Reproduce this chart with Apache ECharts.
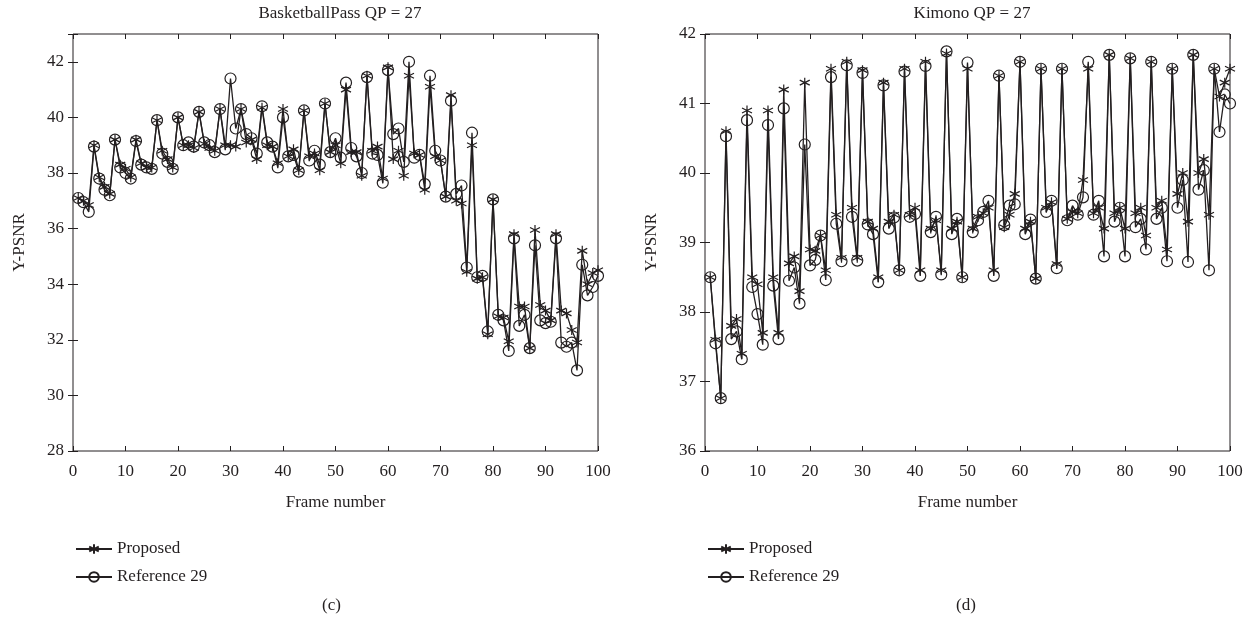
<!DOCTYPE html>
<html style="height: 100%">
    <head>
        <title>Y-PSNR per frame</title>
        <script type="text/javascript" src="https://fastly.jsdelivr.net/npm/echarts@6.0.0/dist/echarts.min.js"></script>
    </head>
    <body style="height: 100%; margin: 0; background: #fff">
        <div id="target" style="width: 1256px; height: 625px"></div>

<script>
// frame numbers 1..100
let frames = [];
for (let i = 1; i <= 100; ++i) frames.push(i);

// (c) BasketballPass QP = 27
let basketProposed = [
    37.1, 37.0, 36.85, 39.0, 37.85, 37.5, 37.25, 39.2, 38.3, 38.15,
    37.85, 39.2, 38.35, 38.2, 38.2, 39.9, 38.8, 38.5, 38.2, 40.0,
    39.0, 39.0, 38.9, 40.2, 39.05, 38.9, 38.8, 40.3, 39.0, 39.0,
    38.95, 40.3, 39.1, 39.2, 38.5, 40.35, 39.0, 38.95, 38.35, 40.3,
    38.6, 38.85, 38.1, 40.25, 38.6, 38.7, 38.1, 40.5, 38.75, 39.0,
    38.35, 41.0, 38.75, 38.75, 37.9, 41.5, 38.8, 38.95, 37.8, 41.8,
    38.5, 38.8, 37.9, 41.5, 38.7, 38.65, 37.4, 41.1, 38.6, 38.45,
    37.15, 40.8, 37.0, 36.9, 34.45, 39.0, 34.2, 34.25, 32.2, 37.05,
    32.85, 32.8, 31.95, 35.8, 33.2, 33.2, 31.7, 35.95, 33.25, 33.05,
    32.7, 35.8, 33.05, 32.95, 32.35, 31.9, 35.2, 34.0, 34.4, 34.5,
];
let basketRef29 = [
    37.1, 36.95, 36.6, 38.95, 37.8, 37.4, 37.2, 39.2, 38.2, 38.0,
    37.8, 39.15, 38.3, 38.2, 38.15, 39.9, 38.7, 38.4, 38.15, 40.0,
    39.0, 39.1, 38.95, 40.2, 39.1, 39.0, 38.75, 40.3, 38.85, 41.4,
    39.6, 40.3, 39.4, 39.25, 38.7, 40.4, 39.1, 38.95, 38.2, 40.0,
    38.6, 38.65, 38.05, 40.25, 38.45, 38.8, 38.3, 40.5, 38.75, 39.25,
    38.55, 41.25, 38.9, 38.6, 38.0, 41.45, 38.7, 38.65, 37.65, 41.7,
    39.4, 39.6, 38.4, 42.0, 38.55, 38.65, 37.6, 41.5, 38.8, 38.45,
    37.15, 40.6, 37.25, 37.55, 34.6, 39.45, 34.25, 34.3, 32.3, 37.05,
    32.9, 32.7, 31.6, 35.65, 32.5, 32.9, 31.7, 35.4, 32.7, 32.6,
    32.65, 35.65, 31.9, 31.75, 31.9, 30.9, 34.7, 33.6, 33.9, 34.3,
];

// (d) Kimono QP = 27
let kimonoProposed = [
    38.5, 37.6, 36.76, 40.6, 37.8, 37.9, 37.4, 40.9, 38.5, 38.4,
    37.7, 40.9, 38.5, 37.7, 41.2, 38.7, 38.8, 38.3, 41.3, 38.9,
    38.88, 39.1, 38.6, 41.5, 39.4, 38.78, 41.6, 39.5, 38.78, 41.48,
    39.3, 39.2, 38.5, 41.3, 39.3, 39.4, 38.6, 41.5, 39.4, 39.5,
    38.6, 41.6, 39.2, 39.32, 38.6, 41.72, 39.2, 39.3, 38.5, 41.5,
    39.2, 39.37, 39.42, 39.5, 38.6, 41.4, 39.22, 39.4, 39.7, 41.6,
    39.2, 39.3, 38.48, 41.5, 39.5, 39.58, 38.69, 41.5, 39.34, 39.44,
    39.42, 39.9, 41.5, 39.42, 39.5, 39.2, 41.7, 39.42, 39.5, 39.2,
    41.65, 39.42, 39.5, 39.1, 41.6, 39.5, 39.6, 38.9, 41.5, 39.7,
    40.0, 39.3, 41.7, 40.0, 40.2, 39.4, 41.5, 41.1, 41.3, 41.5,
];
let kimonoRef29 = [
    38.5, 37.55, 36.76, 40.53, 37.61, 37.72, 37.32, 40.76, 38.36, 37.97,
    37.53, 40.69, 38.38, 37.61, 40.93, 38.45, 38.64, 38.12, 40.41, 38.67,
    38.75, 39.1, 38.46, 41.38, 39.27, 38.73, 41.55, 39.37, 38.74, 41.44,
    39.26, 39.12, 38.43, 41.26, 39.2, 39.36, 38.6, 41.46, 39.37, 39.41,
    38.52, 41.54, 39.15, 39.37, 38.54, 41.75, 39.12, 39.34, 38.5, 41.59,
    39.15, 39.32, 39.44, 39.6, 38.52, 41.4, 39.25, 39.53, 39.55, 41.6,
    39.12, 39.33, 38.48, 41.5, 39.44, 39.6, 38.63, 41.5, 39.32, 39.53,
    39.4, 39.65, 41.6, 39.4, 39.6, 38.8, 41.7, 39.3, 39.5, 38.8,
    41.65, 39.22, 39.34, 38.9, 41.6, 39.34, 39.5, 38.73, 41.5, 39.5,
    39.9, 38.72, 41.7, 39.76, 40.04, 38.6, 41.5, 40.59, 41.13, 41.0,
];

let ink = "#231f20";
let font = "Liberation Serif";

// matlab style asterisk
let starSymbol = "path://M5 0L5 10M0.7 2.5L9.3 7.5M9.3 2.5L0.7 7.5";

let chart = echarts.init(document.getElementById("target"));

let MakeGrid = (left) => ({
    left: left, top: 34, width: 525, height: 417,
    show: true, borderColor: ink, borderWidth: 1,
});

let MakeXAxis = (grid, pos) => ({
    type: "value", gridIndex: grid, position: pos,
    min: 0, max: 100, interval: 10,
    name: pos == "bottom" ? "Frame number" : "",
    nameLocation: "middle", nameGap: 38,
    nameTextStyle: { color: ink, fontFamily: font, fontSize: 17 },
    axisLine: { show: false },
    axisTick: { inside: true, length: 5, lineStyle: { color: ink } },
    axisLabel: { show: pos == "bottom", color: ink, fontFamily: font, fontSize: 17, margin: 8 },
    splitLine: { show: false },
});

let MakeYAxis = (grid, pos, min, max, interval) => ({
    type: "value", gridIndex: grid, position: pos,
    min: min, max: max, interval: interval,
    name: pos == "left" ? "Y-PSNR" : "",
    nameLocation: "middle", nameGap: 40, nameRotate: 90,
    nameTextStyle: { color: ink, fontFamily: font, fontSize: 17 },
    axisLine: { show: false },
    axisTick: { inside: true, length: 5, lineStyle: { color: ink } },
    axisLabel: {
        show: pos == "left", color: ink, fontFamily: font, fontSize: 17, margin: 9,
        formatter: v => (v - min) % interval == 0 ? String(v) : "",
    },
    splitLine: { show: false },
});

let MakeSeries = (name, data, axis, isStar) => ({
    name: name, type: "line",
    xAxisIndex: axis, yAxisIndex: axis,
    data: frames.map((f, i) => [f, data[i]]),
    symbol: isStar ? starSymbol : "circle",
    symbolSize: isStar ? 10 : 11,
    showAllSymbol: true,
    lineStyle: { color: ink, width: 1.3 },
    itemStyle: { color: "rgba(0,0,0,0)", borderColor: ink, borderWidth: 1.2 },
    emphasis: { disabled: true },
    animation: false,
    z: isStar ? 3 : 2,
});

let MakeLegend = (left) => ({
    orient: "vertical", left: left, top: 531, itemGap: 2,
    itemWidth: 36, itemHeight: 12,
    textStyle: { color: ink, fontFamily: font, fontSize: 17, lineHeight: 20 },
    data: ["Proposed", "Reference 29"],
    selectedMode: false,
});

let option = {
    backgroundColor: "#fff",
    animation: false,
    title: [
        { text: "BasketballPass QP = 27", left: 335, top: -4, textAlign: "center",
          textStyle: { color: ink, fontFamily: font, fontSize: 17, fontWeight: "normal" } },
        { text: "Kimono QP = 27", left: 967, top: -4, textAlign: "center",
          textStyle: { color: ink, fontFamily: font, fontSize: 17, fontWeight: "normal" } },
    ],
    grid: [MakeGrid(73), MakeGrid(705)],
    xAxis: [
        MakeXAxis(0, "bottom"), MakeXAxis(0, "top"),
        MakeXAxis(1, "bottom"), MakeXAxis(1, "top"),
    ],
    yAxis: [
        MakeYAxis(0, "left", 28, 43, 2), MakeYAxis(0, "right", 28, 43, 2),
        MakeYAxis(1, "left", 36, 42, 1), MakeYAxis(1, "right", 36, 42, 1),
    ],
    legend: [MakeLegend(70), MakeLegend(702)],
    series: [
        MakeSeries("Reference 29", basketRef29, 0, false),
        MakeSeries("Proposed", basketProposed, 0, true),
        MakeSeries("Reference 29", kimonoRef29, 2, false),
        MakeSeries("Proposed", kimonoProposed, 2, true),
    ],
    graphic: [
        { type: "text", left: 322, top: 593, style: { text: "(c)", fill: ink, font: "17px " + font } },
        { type: "text", left: 956, top: 593, style: { text: "(d)", fill: ink, font: "17px " + font } },
    ],
};

chart.setOption(option);
</script>
    </body>
</html>
